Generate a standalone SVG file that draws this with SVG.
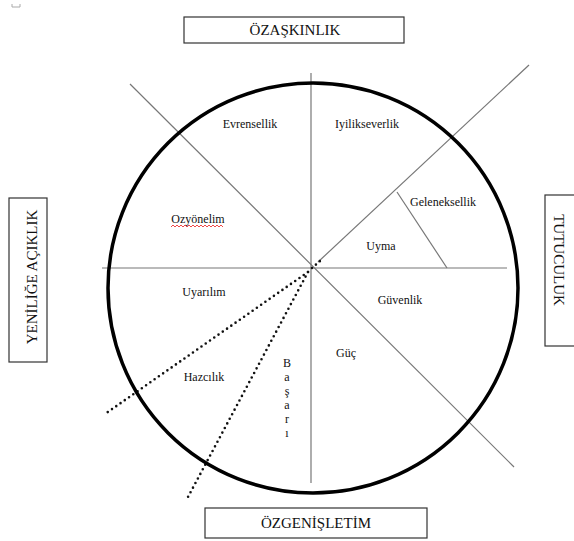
<svg xmlns="http://www.w3.org/2000/svg" width="574" height="541" viewBox="0 0 574 541">
<style>
.lbl{font-size:12px;text-anchor:middle}
.box{fill:#fff;stroke:#333;stroke-width:1.2}
.bt{font-size:15px;text-anchor:middle}
.ln{stroke:#777;stroke-width:1.2;fill:none}
.dot{stroke:#111;stroke-width:2.6;stroke-linecap:round;stroke-dasharray:0 5.2;fill:none}
</style>
<rect width="574" height="541" fill="#fff"/>
<path d="M12 4V7H20V4" fill="none" stroke="#aaa" stroke-width="1"/>
<g id="connectors">
<line class="ln" x1="102" y1="268" x2="507" y2="268"/>
<line class="ln" x1="311" y1="73" x2="311" y2="483" stroke="#888" stroke-width="1.5"/>
<line class="ln" x1="130" y1="84" x2="514" y2="467"/>
<line class="ln" x1="318" y1="262" x2="529" y2="65" stroke="#555" stroke-width="1"/>
<path class="dot" d="M312 268L320 261" stroke-width="2"/>
<line class="ln" x1="397" y1="192" x2="447" y2="268" stroke="#555"/>
<path class="dot" d="M308 272L105 414"/>
<path class="dot" d="M308 272L188 497"/>
</g>
<g id="circle"><circle cx="313" cy="288" r="205" fill="none" stroke="#000" stroke-width="3.5"/></g>
<g font-family="'Liberation Serif', 'Times New Roman', serif" fill="#111">
<g id="ozaskinlik"><rect class="box" x="184" y="17" width="220" height="26"/><text class="bt" x="295" y="35" font-family="'Liberation Serif', serif">ÖZAŞKINLIK</text></g>
<g id="yenilige"><rect class="box" x="9" y="198" width="38" height="164"/><text class="bt" transform="translate(37,277) rotate(-90)" font-family="'Liberation Serif', serif">YENİLİĞE AÇIKLIK</text></g>
<g id="tutuculuk"><rect class="box" x="545" y="195" width="40" height="151"/><text class="bt" transform="translate(554,260) rotate(90)" font-family="'Liberation Serif', serif">TUTUCULUK</text></g>
<g id="ozgenisletim"><rect class="box" x="205" y="508" width="222" height="30"/><text class="bt" x="316" y="528" font-family="'Liberation Serif', serif">ÖZGENİŞLETİM</text></g>
<g id="evrensellik"><text class="lbl" x="250" y="128" font-family="'Liberation Serif', serif">Evrensellik</text></g>
<g id="iyilikseverlik"><text class="lbl" x="367" y="128" font-family="'Liberation Serif', serif">Iyilikseverlik</text></g>
<g id="ozyonelim"><text class="lbl" x="198" y="223" font-family="'Liberation Serif', serif">Ozyönelim</text><path d="M171 227l2-2 2 2 2-2 2 2 2-2 2 2 2-2 2 2 2-2 2 2 2-2 2 2 2-2 2 2 2-2 2 2 2-2 2 2 2-2 2 2 2-2 2 2 2-2 2 2 2-2 2 2" fill="none" stroke="#e33" stroke-width="0.9"/></g>
<g id="uyma"><text class="lbl" x="381" y="250" font-family="'Liberation Serif', serif">Uyma</text></g>
<g id="geleneksellik"><text class="lbl" x="443" y="206" font-family="'Liberation Serif', serif">Geleneksellik</text></g>
<g id="uyarilim"><text class="lbl" x="204" y="296" font-family="'Liberation Serif', serif">Uyarılım</text></g>
<g id="guvenlik"><text class="lbl" x="400" y="304" font-family="'Liberation Serif', serif">Güvenlik</text></g>
<g id="guc"><text class="lbl" x="346" y="357" font-size="13" font-family="'Liberation Serif', serif">Güç</text></g>
<g id="hazcilik"><text class="lbl" x="204" y="381" font-family="'Liberation Serif', serif">Hazcılık</text></g>
<g id="basari" font-family="'Liberation Serif', serif"><text class="lbl" x="287" y="367">B</text><text class="lbl" x="287" y="381">a</text><text class="lbl" x="287" y="395">ş</text><text class="lbl" x="287" y="409">a</text><text class="lbl" x="287" y="423">r</text><text class="lbl" x="287" y="437">ı</text></g>
</g>
</svg>
